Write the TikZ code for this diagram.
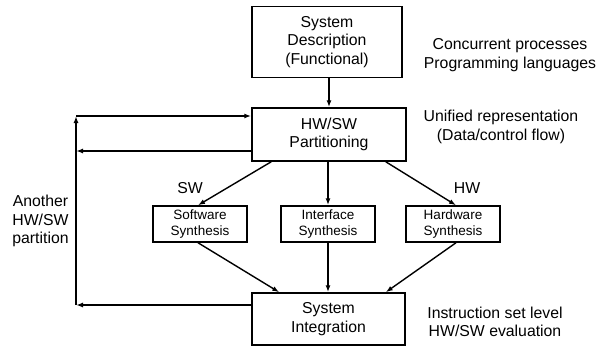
\documentclass[tikz,border=0pt]{standalone}
\usepackage{fontspec}
\setmainfont{Liberation Sans}
\usetikzlibrary{arrows.meta}
\begin{document}
\begin{tikzpicture}[x=1pt,y=-1pt,
  box/.style={draw,line width=1.5pt,inner sep=0pt,align=center,font=\fontsize{15.8}{18.5}\selectfont},
  sbox/.style={draw,line width=1.5pt,inner sep=0pt,align=center,minimum width=94pt,minimum height=36pt,font=\fontsize{13.5}{16}\selectfont},
  lbl/.style={inner sep=0pt,align=center,font=\fontsize{15.8}{18.5}\selectfont},
  arr/.style={line width=1.4pt,-{Latex[length=7pt,width=5pt]}}]
\useasboundingbox (0,0) rectangle (601,348);
\node[box,minimum width=150pt,minimum height=71pt] (b1) at (327,42) {System\\Description\\(Functional)};
\node[box,minimum width=154pt,minimum height=53pt] (b2) at (329,134.5) {HW/SW\\Partitioning};
\node[sbox] (b3) at (200,224) {Software\\Synthesis};
\node[sbox] (b4) at (328,224) {Interface\\Synthesis};
\node[sbox] (b6) at (453,224) {Hardware\\Synthesis};
\node[box,minimum width=153pt,minimum height=52pt] (b5) at (328.5,319) {System\\Integration};
\node[lbl] (t1) at (510,55) {Concurrent processes\\Programming languages};
\node[lbl] (t2) at (501,127) {Unified representation\\(Data/control flow)};
\node[lbl] (t3) at (495,322) {Instruction set level\\HW/SW evaluation};
\node[lbl] (t4) at (40.5,221) {Another\\HW/SW\\partition};
\node[lbl] (sw) at (190,188) {SW};
\node[lbl] (hw) at (467,188) {HW};
\coordinate (c1) at (76,305);
\coordinate (c2) at (76,116);
\coordinate (c3) at (76,151);
\draw[arr] (b2.north |- b1.south) -- (b2.north);
\draw[arr] ([xshift=20pt]b2.south west) -- ([xshift=-2pt]b3.north);
\draw[arr] (b4.north |- b2.south) -- (b4.north);
\draw[arr] ([xshift=-21pt]b2.south east) -- ([xshift=3pt]b6.north);
\draw[arr] ([xshift=-2pt]b3.south) -- ([xshift=28pt]b5.north west);
\draw[arr] (b4.south) -- (b4.south |- b5.north);
\draw[arr] ([xshift=3pt]b6.south) -- ([xshift=-20pt]b5.north east);
\draw[arr] (b5.west |- c1) -- (c1);
\draw[arr] (c1) -- (c2);
\draw[arr] (c2) -- (c2 -| b2.west);
\draw[arr] (b2.west |- c3) -- (c3);
\end{tikzpicture}
\end{document}
